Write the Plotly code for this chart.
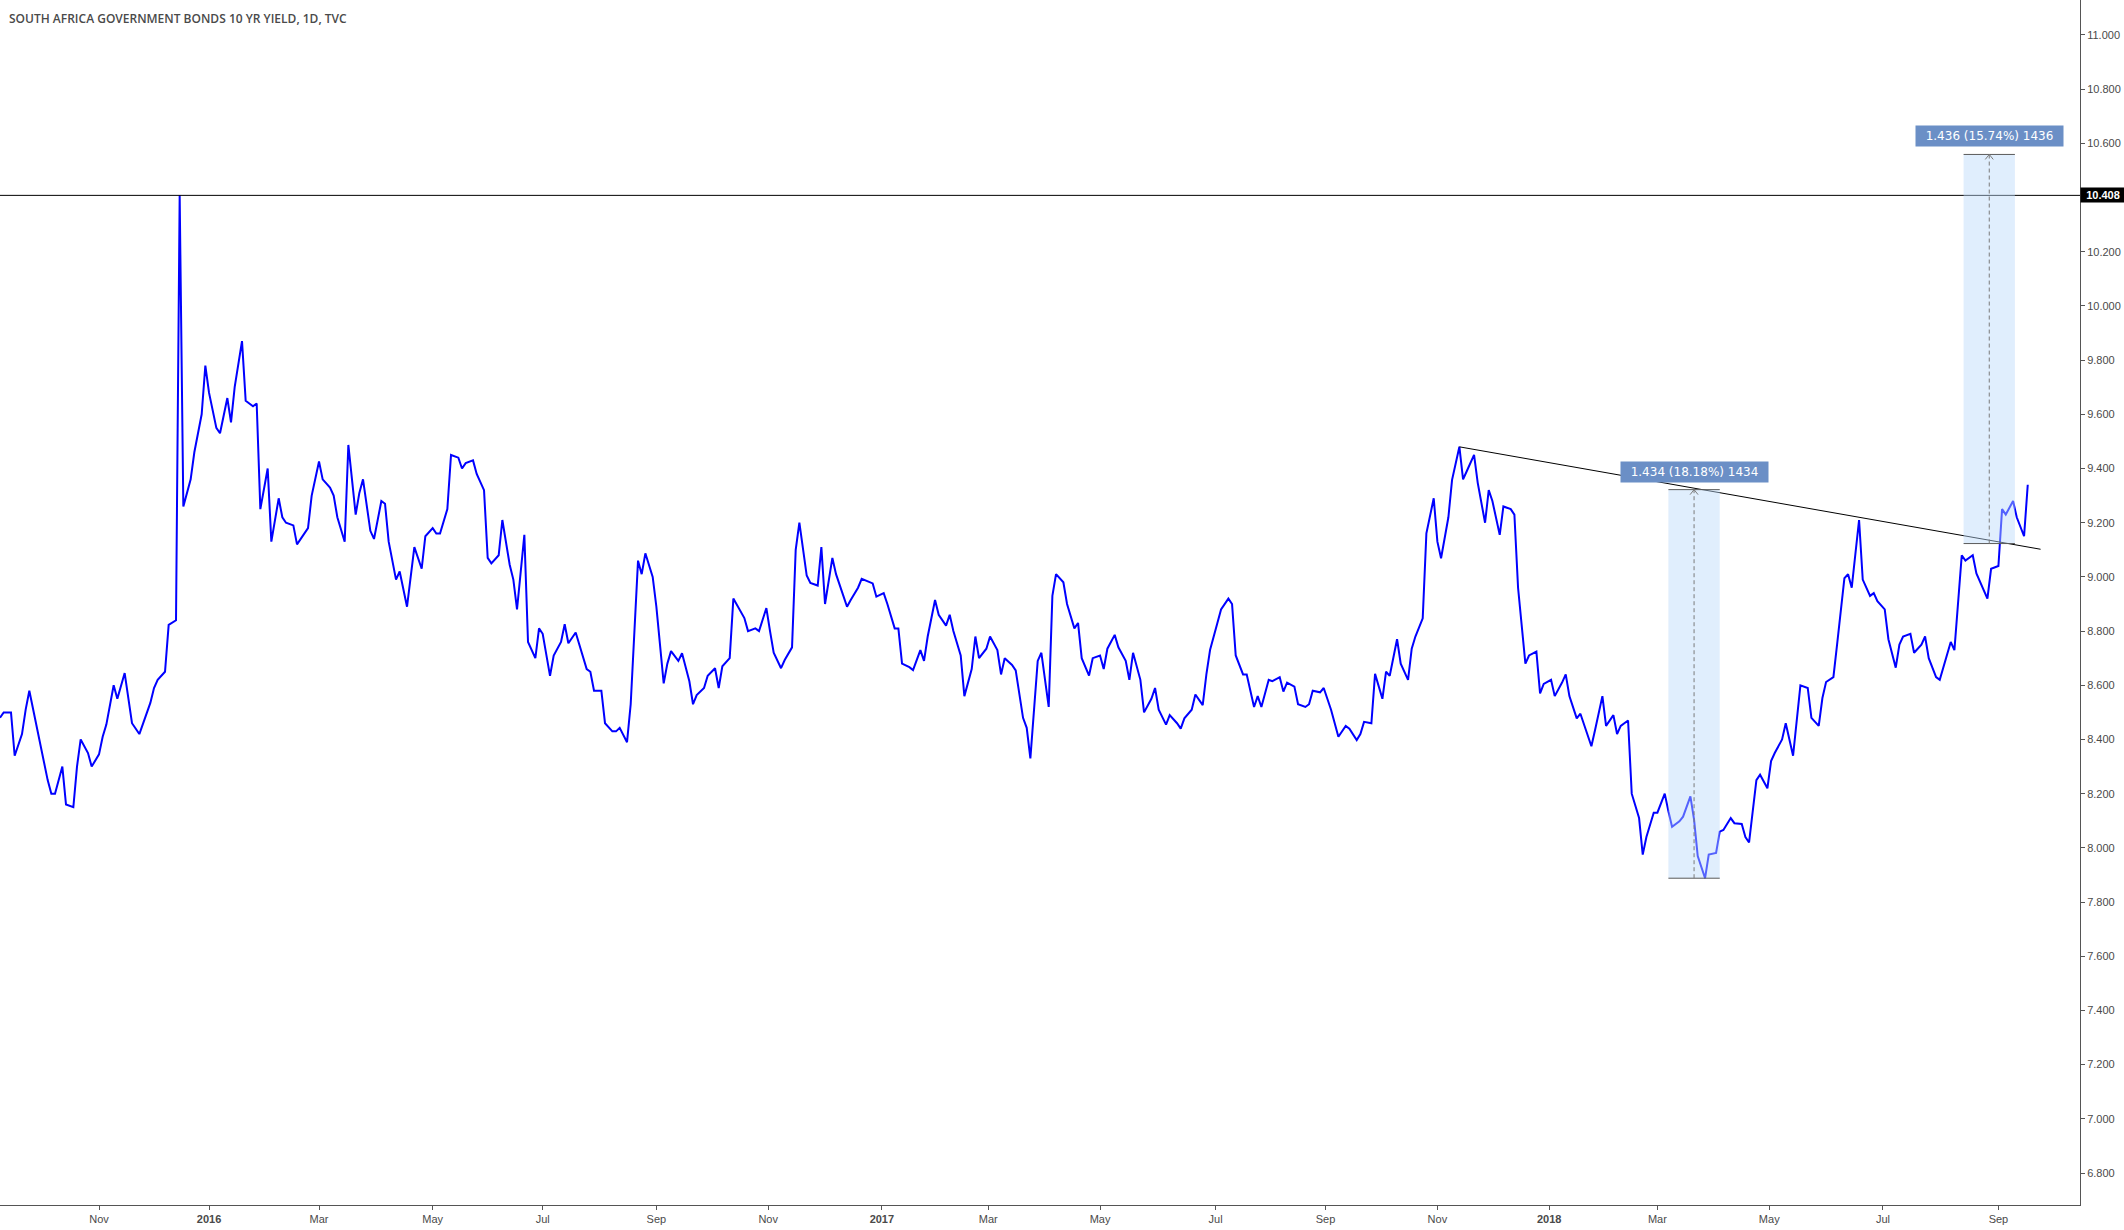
import pandas as pd
import plotly.graph_objects as go

# ---------------- data ----------------
title_text = "SOUTH AFRICA GOVERNMENT BONDS 10 YR YIELD, 1D, TVC"

start_date = "2015-09-09"      # first session shown
sample_step = "2B"             # one reading every 2 business days

yields = [
    8.48, 8.50, 8.50, 8.34, 8.42, 8.51, 8.58, 8.45, 8.38, 8.25,
    8.20, 8.20, 8.30, 8.16, 8.15, 8.30, 8.40, 8.35, 8.30, 8.345,
    8.41, 8.455, 8.60, 8.55, 8.645, 8.55, 8.46, 8.42, 8.46, 8.535,
    8.59, 8.62, 8.65, 8.823, 8.84, 10.408, 9.26, 9.36, 9.46, 9.60,
    9.78, 9.68, 9.55, 9.53, 9.66, 9.57, 9.70, 9.87, 9.65, 9.63,
    9.64, 9.25, 9.40, 9.13, 9.29, 9.22, 9.20, 9.19, 9.12, 9.16,
    9.18, 9.30, 9.426, 9.36, 9.33, 9.30, 9.22, 9.13, 9.487, 9.23,
    9.31, 9.36, 9.17, 9.14, 9.28, 9.27, 9.13, 8.99, 9.02, 8.89,
    9.01, 9.11, 9.03, 9.15, 9.18, 9.16, 9.16, 9.25, 9.45, 9.44,
    9.40, 9.42, 9.43, 9.38, 9.32, 9.07, 9.05, 9.08, 9.21, 9.045,
    8.99, 8.88, 9.155, 8.76, 8.70, 8.81, 8.79, 8.635, 8.71, 8.76,
    8.825, 8.755, 8.795, 8.752, 8.66, 8.65, 8.58, 8.58, 8.46, 8.43,
    8.43, 8.443, 8.39, 8.53, 9.06, 9.01, 9.087, 9.00, 8.89, 8.607,
    8.68, 8.726, 8.69, 8.718, 8.615, 8.53, 8.564, 8.59, 8.635, 8.663,
    8.59, 8.67, 8.70, 8.92, 8.87, 8.848, 8.80, 8.81, 8.80, 8.885,
    8.80, 8.72, 8.663, 8.693, 8.74, 9.10, 9.20, 9.005, 8.978, 8.968,
    9.11, 8.90, 9.07, 9.01, 8.93, 8.89, 8.915, 8.96, 8.993, 8.98,
    8.976, 8.927, 8.94, 8.90, 8.81, 8.81, 8.68, 8.667, 8.656, 8.73,
    8.69, 8.78, 8.915, 8.86, 8.82, 8.86, 8.80, 8.71, 8.56, 8.66,
    8.78, 8.70, 8.735, 8.78, 8.73, 8.64, 8.70, 8.675, 8.655, 8.48,
    8.443, 8.33, 8.69, 8.72, 8.52, 8.93, 9.01, 8.98, 8.90, 8.81,
    8.83, 8.70, 8.636, 8.70, 8.71, 8.66, 8.735, 8.786, 8.74, 8.69,
    8.62, 8.72, 8.62, 8.50, 8.55, 8.59, 8.51, 8.455, 8.49, 8.46,
    8.44, 8.478, 8.51, 8.566, 8.527, 8.64, 8.73, 8.83, 8.88, 8.92,
    8.90, 8.71, 8.64, 8.64, 8.52, 8.56, 8.52, 8.62, 8.615, 8.63,
    8.577, 8.61, 8.595, 8.53, 8.52, 8.53, 8.58, 8.574, 8.59, 8.51,
    8.46, 8.41, 8.45, 8.44, 8.398, 8.42, 8.465, 8.46, 8.642, 8.55,
    8.65, 8.635, 8.77, 8.68, 8.62, 8.735, 8.78, 8.847, 9.161, 9.29,
    9.13, 9.069, 9.22, 9.358, 9.48, 9.36, 9.39, 9.45, 9.347, 9.20,
    9.32, 9.28, 9.155, 9.26, 9.25, 9.23, 8.96, 8.68, 8.71, 8.724,
    8.57, 8.605, 8.62, 8.56, 8.61, 8.64, 8.56, 8.478, 8.495, 8.41,
    8.375, 8.435, 8.56, 8.45, 8.49, 8.42, 8.45, 8.47, 8.20, 8.11,
    7.975, 8.04, 8.13, 8.13, 8.20, 8.135, 8.078, 8.098, 8.115, 8.19,
    8.104, 7.97, 7.888, 7.975, 7.981, 8.06, 8.066, 8.11, 8.091, 8.088,
    8.04, 8.02, 8.25, 8.27, 8.22, 8.32, 8.35, 8.40, 8.46, 8.34,
    8.48, 8.60, 8.59, 8.48, 8.45, 8.553, 8.612, 8.63, 8.75, 8.995,
    9.01, 8.96, 9.21, 8.99, 8.93, 8.94, 8.91, 8.88, 8.77, 8.665,
    8.75, 8.78, 8.79, 8.72, 8.75, 8.78, 8.70, 8.63, 8.62, 8.71,
    8.76, 8.73, 9.08, 9.06, 9.08, 9.013, 8.982, 8.92, 9.03, 9.04,
    9.25, 9.23, 9.28, 9.22, 9.15, 9.34,
]
dates = pd.bdate_range(start=start_date, periods=len(yields), freq=sample_step)

x_range = [start_date, "2018-10-17 12:00"]
y_range = [6.682, 11.129]

level_value = 10.408
level_label = "10.408"

trend_dates = ["2017-11-13", "2018-09-26"]
trend_values = [9.48, 9.102]

range1_dates = ["2018-03-07", "2018-04-04"]
range1_values = [7.888, 9.322]
range1_label = "1.434 (18.18%) 1434"

range2_dates = ["2018-08-15", "2018-09-12"]
range2_values = [9.123, 10.559]
range2_label = "1.436 (15.74%) 1436"

x_tick_dates = ["2015-11-02", "2016-01-01", "2016-03-01", "2016-05-02", "2016-07-01",
                "2016-09-01", "2016-11-01", "2017-01-02", "2017-03-01", "2017-05-01",
                "2017-07-03", "2017-09-01", "2017-11-01", "2018-01-01", "2018-03-01",
                "2018-05-01", "2018-07-02", "2018-09-03"]
x_tick_labels = ["Nov", "<b>2016</b>", "Mar", "May", "Jul", "Sep", "Nov", "<b>2017</b>",
                 "Mar", "May", "Jul", "Sep", "Nov", "<b>2018</b>", "Mar", "May", "Jul", "Sep"]

y_tick_values = [6.8, 7.0, 7.2, 7.4, 7.6, 7.8, 8.0, 8.2, 8.4, 8.6, 8.8, 9.0,
                 9.2, 9.4, 9.6, 9.8, 10.0, 10.2, 10.6, 10.8, 11.0]
y_tick_labels = [f"{v:.3f}" for v in y_tick_values]

# ---------------- styles ----------------
LINE_BLUE = "#0000ff"
AXIS_COL = "#555555"
TICK_FONT = dict(family="Liberation Sans, Arial, sans-serif", size=11, color="#4a4a4a")
RANGE_FILL = "rgba(187,217,251,0.45)"
RANGE_EDGE = "#5a5a5a"
RANGE_DASH = "#7a7a7a"
LABEL_BG = "#6b8fc6"

fig = go.Figure()
fig.add_trace(go.Scatter(
    x=dates, y=yields, mode="lines",
    line=dict(color=LINE_BLUE, width=2),
    hoverinfo="skip", showlegend=False,
))

shapes = []
annotations = []

# horizontal level line
shapes.append(dict(type="line", xref="paper", x0=0, x1=1, yref="y",
                   y0=level_value, y1=level_value,
                   line=dict(color="black", width=1), layer="above"))

# trend line
shapes.append(dict(type="line", xref="x", yref="y",
                   x0=trend_dates[0], x1=trend_dates[1],
                   y0=trend_values[0], y1=trend_values[1],
                   line=dict(color="black", width=1), layer="above"))


def add_range(d, v, label):
    d0, d1 = pd.Timestamp(d[0]), pd.Timestamp(d[1])
    mid = d0 + (d1 - d0) / 2
    shapes.append(dict(type="rect", xref="x", yref="y", x0=d0, x1=d1, y0=v[0], y1=v[1],
                       fillcolor=RANGE_FILL, line=dict(width=0), layer="above"))
    for yy in v:
        shapes.append(dict(type="line", xref="x", yref="y", x0=d0, x1=d1, y0=yy, y1=yy,
                           line=dict(color=RANGE_EDGE, width=1), layer="above"))
    shapes.append(dict(type="line", xref="x", yref="y", x0=mid, x1=mid, y0=v[0], y1=v[1],
                       line=dict(color=RANGE_DASH, width=1, dash="4px,3px"), layer="above"))
    # arrow head (chevron) at top of the measuring line
    shapes.append(dict(type="path", xref="x", yref="y", xsizemode="pixel", ysizemode="pixel",
                       xanchor=mid, yanchor=v[1], path="M -4,-5 L 0,0 L 4,-5",
                       line=dict(color=RANGE_DASH, width=1), layer="above"))
    annotations.append(dict(x=mid, y=v[1], xref="x", yref="y", text=label,
                            showarrow=False, xanchor="center", yanchor="bottom",
                            yshift=7, bgcolor=LABEL_BG, borderpad=3, width=141,
                            font=dict(family="DejaVu Sans, Verdana, sans-serif",
                                      size=12, color="white")))


add_range(range1_dates, range1_values, range1_label)
add_range(range2_dates, range2_values, range2_label)

# title
annotations.append(dict(x=0, y=1, xref="paper", yref="paper", xanchor="left", yanchor="top",
                        xshift=7, yshift=-8, text=title_text, showarrow=False,
                        font=dict(family="Open Sans, sans-serif", size=12, color="#4a4a4a",
                                  weight=600)))
# level price label on the axis
annotations.append(dict(x=1, y=level_value, xref="paper", yref="y", xanchor="left",
                        yanchor="middle", text="<b>" + level_label + "</b>", showarrow=False,
                        bgcolor="black", borderpad=1, width=42,
                        font=dict(family="Liberation Sans, Arial, sans-serif", size=11,
                                  color="white")))

fig.update_layout(
    width=2124, height=1230,
    margin=dict(l=0, r=44, t=0, b=25),
    paper_bgcolor="white", plot_bgcolor="white",
    showlegend=False,
    shapes=shapes, annotations=annotations,
    xaxis=dict(type="date", range=x_range, tickvals=x_tick_dates, ticktext=x_tick_labels,
               ticks="outside", ticklen=4, tickcolor=AXIS_COL, showline=True,
               linecolor=AXIS_COL, linewidth=1, showgrid=False, zeroline=False,
               tickfont=TICK_FONT),
    yaxis=dict(side="right", range=y_range, tickvals=y_tick_values, ticktext=y_tick_labels,
               ticks="outside", ticklen=4, tickcolor=AXIS_COL, showline=True,
               linecolor=AXIS_COL, linewidth=1, showgrid=False, zeroline=False,
               tickfont=TICK_FONT),
)

fig.write_html("out.html", config={"displayModeBar": False},
               post_script="document.body.style.margin='0';")
